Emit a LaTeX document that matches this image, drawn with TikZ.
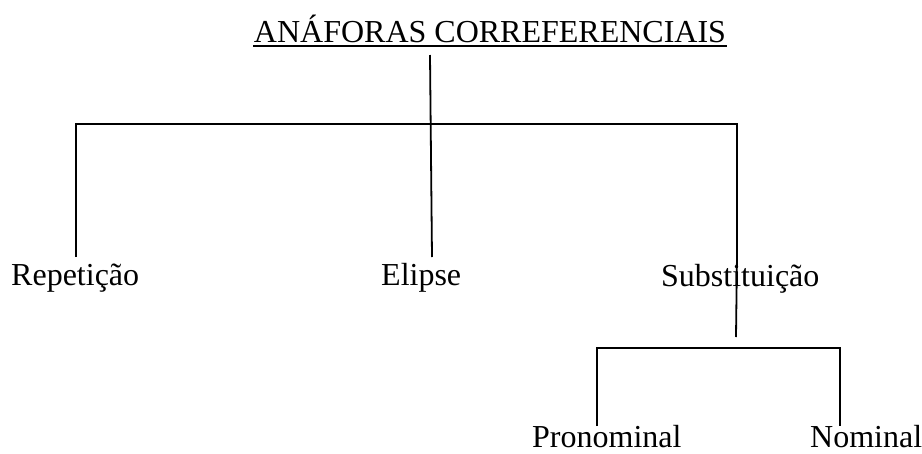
\documentclass[tikz,border=0pt]{standalone}
\usepackage{fontspec}
\setmainfont{Liberation Serif}
\begin{document}
\begin{tikzpicture}[x=1pt,y=-1pt,
  lbl/.style={font=\fontsize{32}{36}\selectfont, inner sep=0pt, anchor=base west},
  conn/.style={line width=1.8pt, black}]
\useasboundingbox (0,0) rectangle (922,453);
% texts
\node[lbl, anchor=base] (title) at (490,42) {ANÁFORAS CORREFERENCIAIS};
\node[lbl] (rep) at (11,285) {Repetição};
\node[lbl] (eli) at (381,285) {Elipse};
\node[lbl] (sub) at (661,286) {Substituição};
\node[lbl] (pro) at (532,447) {Pronominal};
\node[lbl] (nom) at (810,447) {Nominal};
% underline
\coordinate (ulA) at (253,46);
\coordinate (ulB) at (727,46);
\draw[line width=1.6pt] (ulA) -- (ulB);
% junction coordinates
\coordinate (tTop) at (430,55);
\coordinate (tBot) at (432,257);
\coordinate (hL) at (76,124);
\coordinate (hR) at (737,124);
\coordinate (repTop) at (76,257);
\coordinate (subTop) at (737,255);
\coordinate (subBot) at (736,337);
\coordinate (sL) at (597,348);
\coordinate (sR) at (840,348);
\coordinate (proTop) at (597,426);
\coordinate (nomTop) at (840,426);
% connectors
\draw[conn] (tTop) -- (tBot);
\draw[conn] (repTop) -- (hL) -- (hR) -- (subTop);
\draw[conn] (subTop) -- (subBot);
\draw[conn] (proTop) -- (sL) -- (sR) -- (nomTop);
\end{tikzpicture}
\end{document}
